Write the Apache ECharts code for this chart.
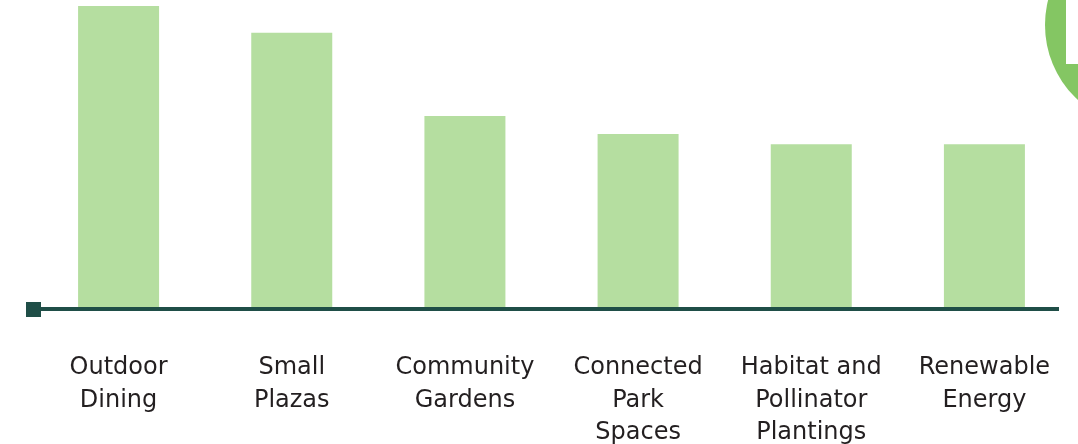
<!DOCTYPE html>
<html>
<head>
<meta charset="utf-8">
<style>html,body{margin:0;padding:0;background:#fff;}#c{width:1078px;height:444px;}</style>
<script src="https://cdn.jsdelivr.net/npm/echarts@6/dist/echarts.min.js"></script>
</head>
<body>
<div id="c"></div>
<script>
const categories = ['Outdoor\nDining', 'Small\nPlazas', 'Community\nGardens', 'Connected\nPark\nSpaces', 'Habitat and\nPollinator\nPlantings', 'Renewable\nEnergy'];
const values = [98.1, 89.4, 62.6, 56.8, 53.5, 53.5];

const chart = echarts.init(document.getElementById('c'), null, {renderer: 'canvas'});
chart.setOption({
  animation: false,
  grid: {left: 32, right: 7, top: 0, bottom: 134, containLabel: false, outerBoundsMode: 'none'},
  xAxis: {
    type: 'category',
    data: categories,
    axisLine: {show: false},
    axisTick: {show: false},
    axisLabel: {
      margin: 42,
      fontFamily: 'DejaVu Sans',
      fontSize: 24,
      lineHeight: 32.5,
      color: '#231f20',
      interval: 0
    }
  },
  yAxis: {type: 'value', min: 0, max: 100, show: false, splitLine: {show: false}},
  series: [{
    type: 'bar',
    data: values,
    barWidth: 81,
    itemStyle: {color: '#b5dea0'}
  }],
  graphic: [
    {type: 'circle', shape: {cx: 1147, cy: 25, r: 102}, style: {fill: '#84c663'}, z: 1},
    {type: 'rect', shape: {x: 1066, y: 0, width: 12, height: 64}, style: {fill: '#ffffff'}, z: 2},
    {type: 'line', shape: {x1: 33, y1: 309, x2: 1059, y2: 309}, style: {stroke: '#1f4e47', lineWidth: 4}, z: 10},
    {type: 'rect', shape: {x: 26, y: 302, width: 15, height: 15}, style: {fill: '#1f4e47'}, z: 10}
  ]
});
</script>
</body>
</html>
